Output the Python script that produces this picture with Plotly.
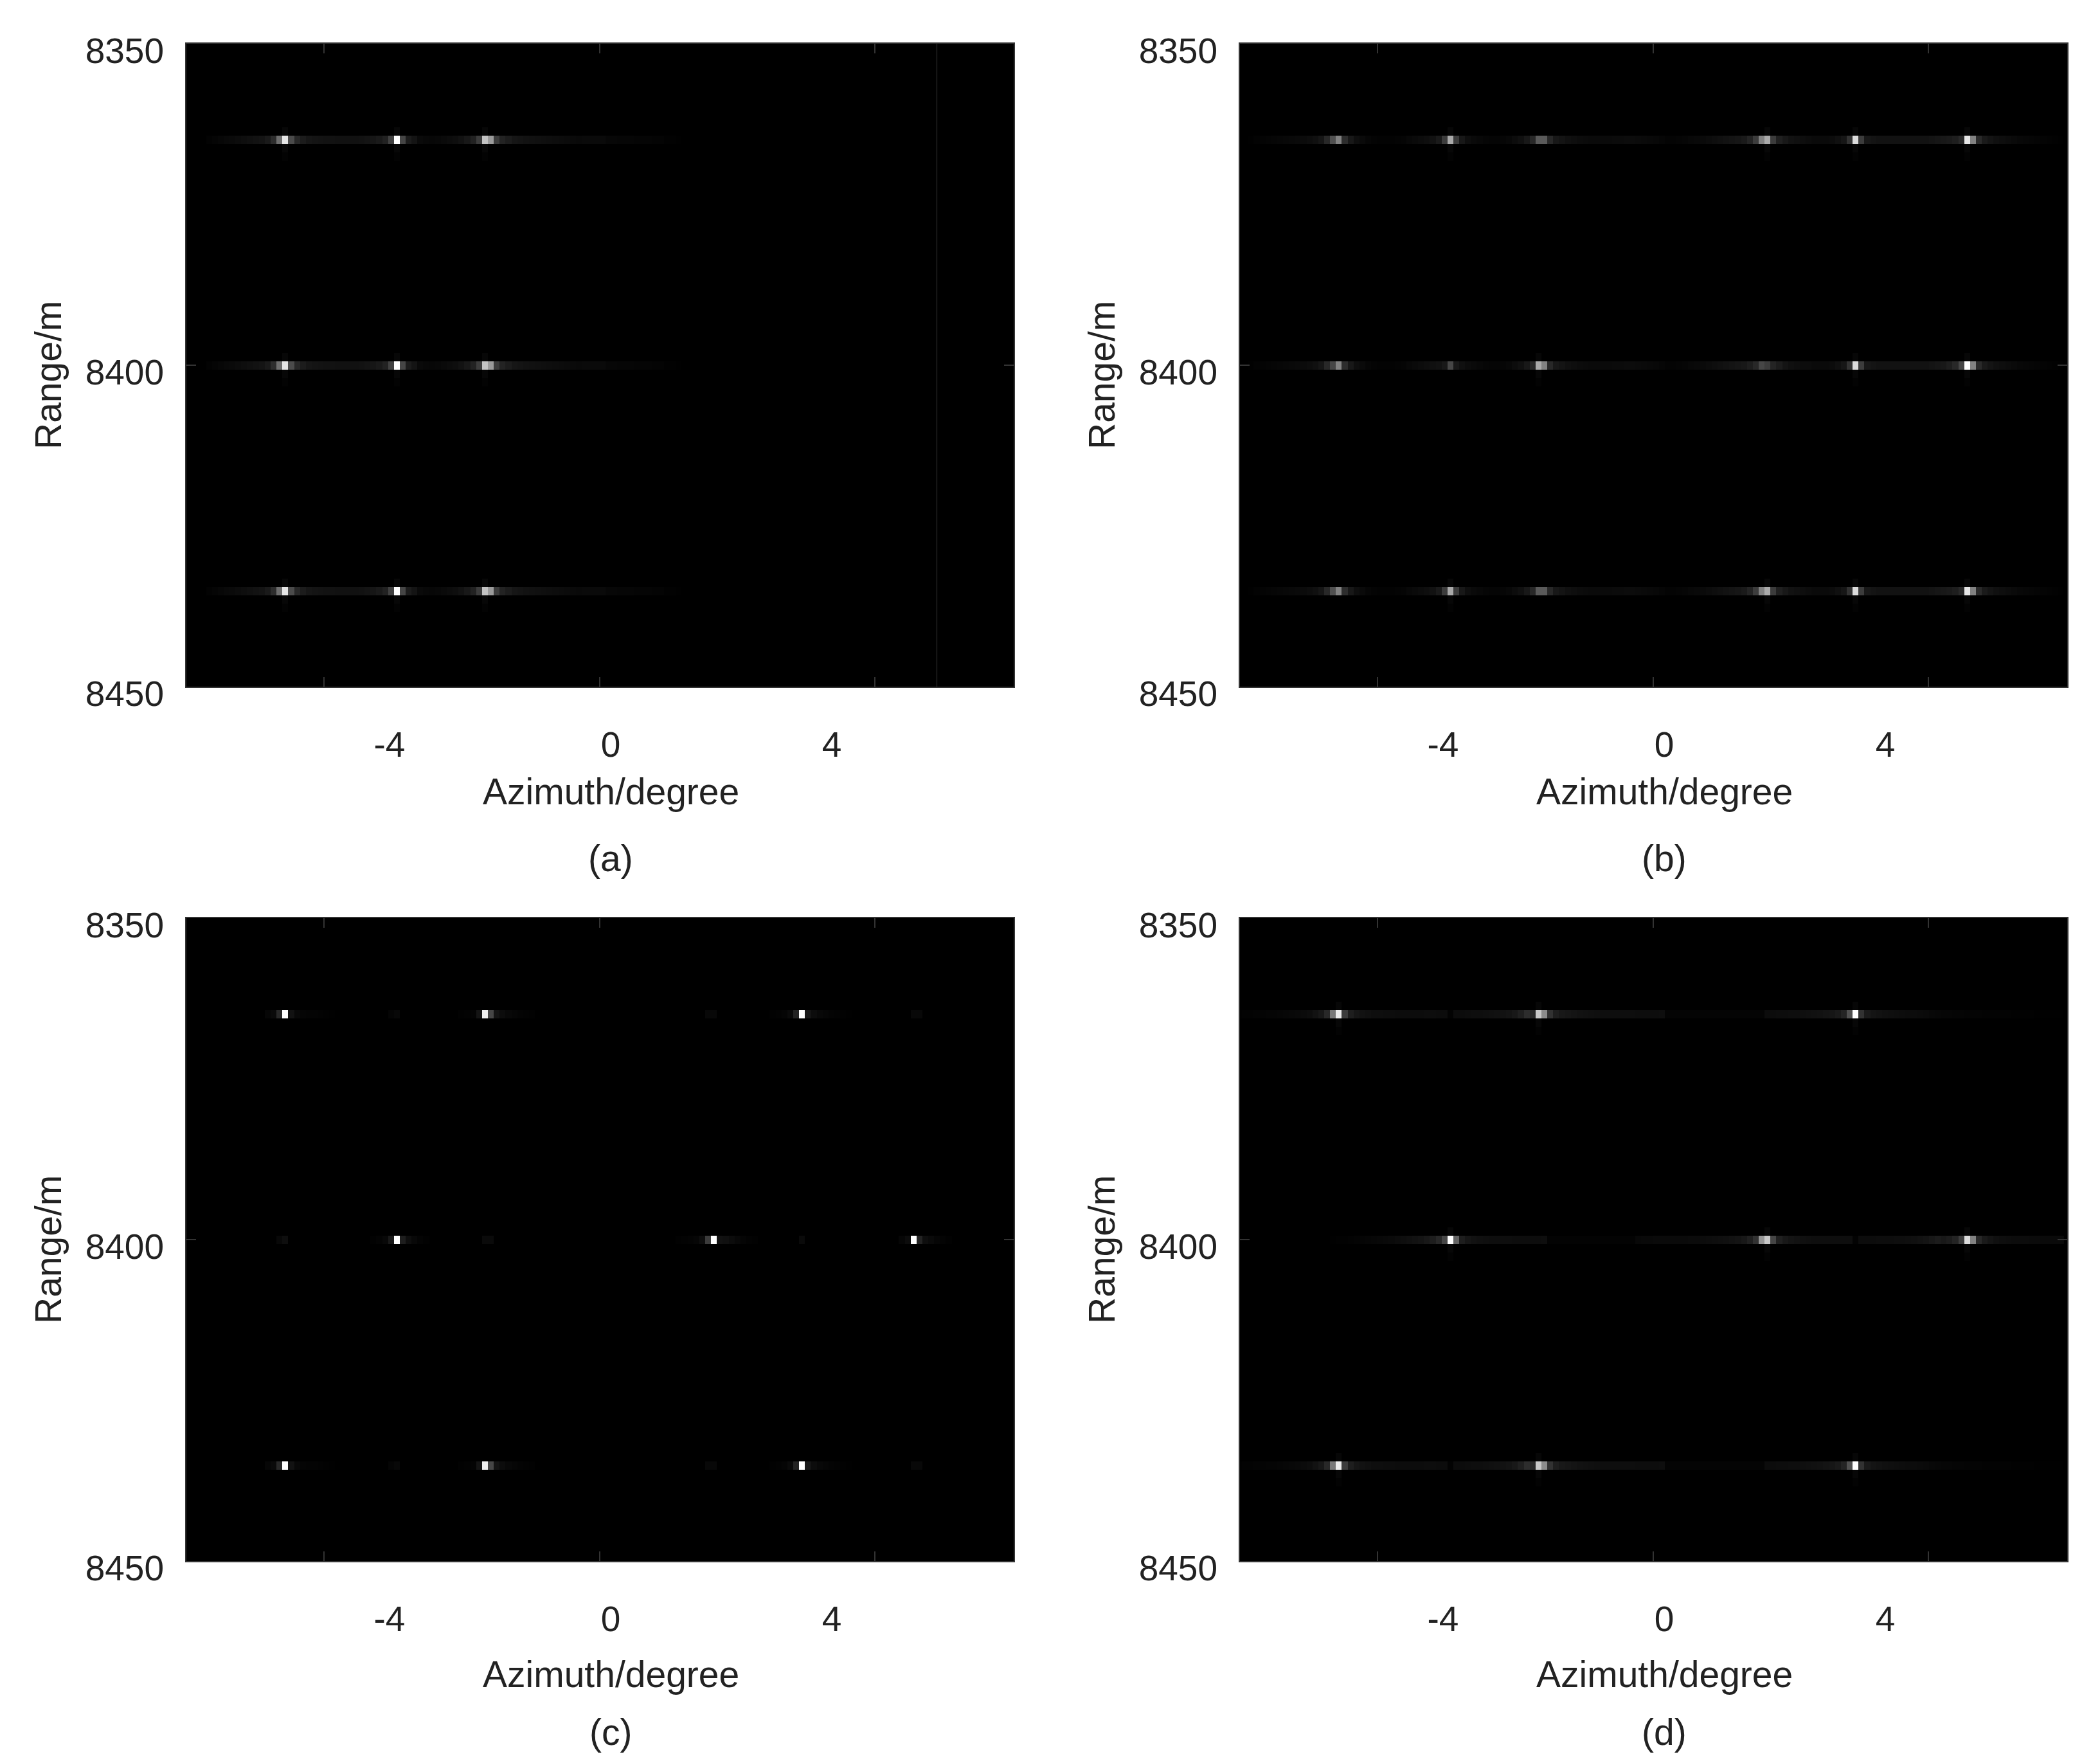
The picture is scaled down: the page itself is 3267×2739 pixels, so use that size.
import plotly.graph_objects as go

# grey levels (0-255), one value per azimuth cell
a_row = [0,0,0,0,3,5,7,9,10,12, 14,16,18,20,26,45,110,230,75,40,
         28,22,20,19,18,18,17,17,17,17, 18,20,22,26,34,65,255,70,28,20,
         10,8,7,8,10,12,14,18,24,34, 60,195,155,60,35,28,22,20,18,17,
         16,15,14,13,12,11,10,9,10,10, 10,10,7,7,6,6,6,5,5,5,
         4,4,2,2,1,0,0,0,0,0, 0,0,0,0,0,0,0,0,0,0,
         0,0,0,0,0,0,0,0,0,0, 0,0,0,0,0,0,0,0,0,0,
         0,0,0,0,0,0,0,0,0,0, 0,0,0,0,0,0,0,0,0,0, 0]
b_outer = [0,0,1,3,4,5,6,7,8,9, 10,11,13,16,22,40,80,130,45,24,
           14,10,6,4,3,3,3,4,5,8, 10,12,14,18,26,60,170,60,24,14,
           10,8,6,5,5,6,8,12,16,24, 40,90,90,40,24,20,16,14,12,11,
           10,10,10,10,11,11,12,12,11,10, 9,8,6,4,4,5,6,8,9,10,
           12,14,16,18,20,22,26,36,60,130, 170,60,32,24,18,16,14,12,10,10,
           10,12,16,22,50,220,60,24,20,18, 18,18,18,18,18,18,18,18,20,22,
           24,26,30,40,230,130,42,26,20,16, 14,12,10,8,7,6,5,4,3,2, 1]
b_middle = [0,0,1,3,4,5,6,7,8,9, 10,11,13,16,22,40,70,130,45,24,
            14,10,6,4,3,3,3,4,5,8, 10,12,14,16,18,24,70,24,16,12,
            10,8,6,5,5,6,8,12,16,24, 40,170,130,40,24,20,16,14,12,11,
            10,10,10,10,11,11,12,12,11,10, 9,8,6,4,4,5,6,8,9,10,
            12,14,16,18,20,22,24,30,40,70, 60,36,28,20,16,14,12,12,10,10,
            10,12,16,22,50,220,60,24,20,18, 18,18,18,18,18,18,18,18,20,22,
            24,30,40,70,255,130,42,26,20,16, 14,12,10,8,7,6,5,4,3,2, 1]
c_outer = [0,0,0,0,0,0,0,0,0,0, 0,0,0,0,6,10,40,255,18,8,
           5,4,4,3,2,1,0,0,0,0, 0,0,0,0,0,5,8,0,0,0,
           0,0,0,0,0,0,0,2,3,4, 20,240,70,20,12,8,6,4,3,2,
           0,0,0,0,0,0,0,0,0,0, 0,0,0,0,0,0,0,0,0,0,
           0,0,0,0,0,0,0,0,0,8, 8,0,0,0,0,0,0,0,0,0,
           2,3,5,10,35,255,25,12,8,6, 4,3,2,1,0,0,0,0,0,0,
           0,0,0,0,8,8,0,0,0,0, 0,0,0,0,0,0,0,0,0,0, 0]
c_middle = [0,0,0,0,0,0,0,0,0,0, 0,0,0,0,0,0,8,14,0,0,
            0,0,0,0,0,0,0,0,0,0, 0,0,2,4,8,25,255,30,14,8,
            4,2,0,0,0,0,0,0,0,0, 0,10,10,0,0,0,0,0,0,0,
            0,0,0,0,0,0,0,0,0,0, 0,0,0,0,0,0,0,0,0,0,
            0,0,0,0,2,3,4,6,14,60, 255,18,16,12,8,5,3,2,0,0,
            0,0,0,0,0,10,0,0,0,0, 0,0,0,0,0,0,0,0,0,0,
            0,0,6,12,255,35,14,10,6,4, 2,0,0,0,0,0,0,0,0,0, 0]
d_outer = [2,3,3,4,4,5,5,6,7,8, 9,11,13,18,24,40,120,235,60,30,
           22,18,16,14,14,13,13,12,12,12, 12,12,13,13,12,12,3,12,12,13,
           14,14,15,16,17,18,20,24,32,45, 40,200,140,50,30,24,22,20,18,17,
           16,15,14,14,14,14,14,14,13,13, 13,13,14,4,4,4,4,4,4,4,
           4,4,4,4,4,4,4,4,4,4, 12,12,13,13,14,14,15,16,17,18,
           20,22,26,36,80,255,50,26,20,18, 16,15,14,13,12,12,11,10,8,7,
           6,6,5,5,4,4,4,3,3,3, 3,3,2,2,2,2,1,1,1,1, 1]
d_middle = [0,0,0,0,0,0,0,0,0,0, 0,0,0,0,0,0,1,2,2,3,
            4,5,6,7,8,9,10,12,14,16, 18,20,24,30,40,70,255,100,30,22,
            18,16,15,14,14,14,14,13,13,13, 13,13,14,3,3,3,3,3,3,3,
            3,3,3,3,3,3,3,3,8,9, 9,10,10,10,10,10,10,11,11,12,
            13,14,15,16,18,20,24,32,50,150, 200,70,32,24,20,18,16,15,14,14,
            14,14,14,14,14,3,12,12,12,13, 13,13,14,14,15,16,18,20,24,28,
            24,28,36,60,220,130,40,26,20,16, 14,13,12,12,12,11,11,10,10,10, 10]

# which profile goes on the 8365 / 8400 / 8435 m rows
panel_rows = [[a_row, a_row, a_row],
              [b_outer, b_middle, b_outer],
              [c_outer, c_middle, c_outer],
              [d_outer, d_middle, d_outer]]
target_rows = [11, 38, 65]

# faint range sidelobes next to the brightest cells, per panel and row
sidelobe_cols = [[[17, 36, 51], [17, 36, 51], [17, 36, 51]],
                 [[36, 90, 105, 124], [51, 105, 124], [36, 90, 105, 124]],
                 [[], [], []],
                 [[17, 51, 105], [36, 90, 124], [17, 51, 105]]]
sidelobe_offsets = [-1, 1, 2]
sidelobe_levels = [7, 7, 3]

n_rows = 77
captions = ["(a)", "(b)", "(c)", "(d)"]
x_labels = [-4, 0, 4]
y_labels = [8350, 8400, 8450]
stray_ticks_x = [-5.186, -0.198, 4.779]   # tick marks do not sit under the labels
stray_line_x = [5.9, 5.9]
stray_line_y = [8350, 8450]

W, H = 3267, 2739
x_dom = [[290/W, 1577/W], [1929/W, 3216/W]]
y_dom = [[1-1068/H, 1-68/H], [1-2428/H, 1-1428/H]]
x_range = [-7.674, 7.29]
title_shift = [-163, -176]
caption_shift = [-267, -266]

TEXT = "#222222"
LINE = "#333333"
FONT = "Liberation Sans"

fig = go.Figure()
for p in range(4):
    rowno, colno = p // 2, p % 2
    ax = "" if p == 0 else str(p + 1)

    z = [[0] * 141 for _ in range(n_rows)]
    for k, (r, prof) in enumerate(zip(target_rows, panel_rows[p])):
        z[r] = list(prof)
        for off, lev in zip(sidelobe_offsets, sidelobe_levels):
            for c in sidelobe_cols[p][k]:
                z[r + off][c] = lev

    fig.add_trace(go.Heatmap(z=z, x0=-7.691, dx=0.10622, y0=8350.65, dy=1.3,
                             zmin=0, zmax=255, showscale=False,
                             colorscale=[[0, "#000000"], [1, "#ffffff"]],
                             xaxis="x" + ax, yaxis="y" + ax))
    if p == 0:
        fig.add_trace(go.Scatter(x=stray_line_x, y=stray_line_y, mode="lines",
                                 line=dict(color="#222222", width=1.5),
                                 showlegend=False, xaxis="x", yaxis="y"))

    fig.layout["xaxis" + ax] = dict(
        domain=x_dom[colno], range=x_range, anchor="y" + ax, showgrid=False, zeroline=False,
        tickmode="array", tickvals=x_labels, ticktext=[str(v) for v in x_labels],
        ticks="", ticklabelstandoff=41,
        tickfont=dict(family=FONT, size=55, color=TEXT),
        minor=dict(tickmode="array", tickvals=stray_ticks_x, ticks="inside", ticklen=15,
                   tickwidth=2, tickcolor=LINE, showgrid=False),
        showline=True, linecolor=LINE, linewidth=2, mirror="ticks")
    fig.layout["yaxis" + ax] = dict(
        domain=y_dom[rowno], range=[8450, 8350], anchor="x" + ax, showgrid=False, zeroline=False,
        tickmode="array", tickvals=y_labels, ticktext=[str(v) for v in y_labels],
        ticks="inside", ticklen=15, tickwidth=2, tickcolor=LINE, ticklabelstandoff=22,
        ticklabelshift=-11, tickfont=dict(family=FONT, size=55, color=TEXT),
        showline=True, linecolor=LINE, linewidth=2, mirror="ticks")

    fig.add_annotation(text="Azimuth/degree", x=0, y=0, xref="x" + ax, yref=f"y{ax} domain",
                       yshift=title_shift[rowno], yanchor="middle", showarrow=False,
                       font=dict(family=FONT, size=57, color=TEXT))
    fig.add_annotation(text=captions[p], x=0, y=0, xref="x" + ax, yref=f"y{ax} domain",
                       yshift=caption_shift[rowno], yanchor="middle", showarrow=False,
                       font=dict(family=FONT, size=57, color=TEXT))
    fig.add_annotation(text="Range/m", x=0, y=8400, xref=f"x{ax} domain", yref="y" + ax,
                       xshift=-215, yshift=-16, xanchor="center", textangle=-90, showarrow=False,
                       font=dict(family=FONT, size=57, color=TEXT))

fig.update_layout(width=W, height=H, margin=dict(l=0, r=0, t=0, b=0, autoexpand=False),
                  paper_bgcolor="white", plot_bgcolor="black", showlegend=False)
fig.write_html("out.html", post_script="document.body.style.margin='0';",
               config=dict(displayModeBar=False))
